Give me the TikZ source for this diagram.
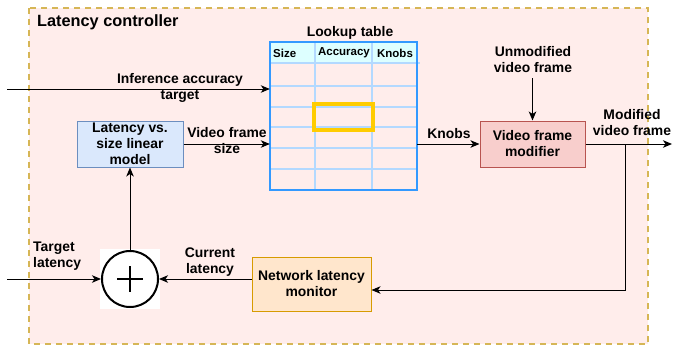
\documentclass[tikz,border=0pt]{standalone}
\usepackage{fontspec}
\setmainfont{Liberation Sans}
\usetikzlibrary{arrows.meta}

\definecolor{ctrlfill}{HTML}{FFEDEB}
\definecolor{ctrldraw}{HTML}{D6B656}
\definecolor{modelfill}{HTML}{DAE8FC}
\definecolor{modeldraw}{HTML}{6C8EBF}
\definecolor{netfill}{HTML}{FFE6CC}
\definecolor{netdraw}{HTML}{D79B00}
\definecolor{modfill}{HTML}{F8CECC}
\definecolor{moddraw}{HTML}{B85450}
\definecolor{tabdraw}{HTML}{3399FF}
\definecolor{tabgrid}{HTML}{B3D9FF}
\definecolor{tabhead}{HTML}{DDFFFF}
\definecolor{pick}{HTML}{FFCC00}

\tikzset{
  lbl/.style={font=\fontsize{13.9}{16}\selectfont\bfseries, align=center, inner sep=0pt},
  hdr/.style={font=\fontsize{11.5}{13}\selectfont\bfseries, inner sep=0pt},
  block/.style={lbl, draw, line width=1pt, minimum width=#1},
  arr/.style={line width=1pt, -{Stealth[length=9pt,width=7.5pt,inset=2.5pt]}},
}

\begin{document}
\begin{tikzpicture}[x=1pt, y=-1pt]
    \useasboundingbox (0,0) rectangle (674,348);

    % Controller frame
    \draw[ctrldraw, fill=ctrlfill, line width=1.5pt, dash pattern=on 6pt off 5pt] (29,8) rectangle (648,344);
    \node[lbl, font=\fontsize{16.3}{18}\selectfont\bfseries, anchor=west] (title) at (37,22) {Latency controller};

    % Lookup table
    \node[minimum width=147, minimum height=148, inner sep=0pt] (tab) at (343.5,116) {};
    \fill[tabhead] (270,42) rectangle (417,63);
    \foreach \y in {86,107,127,148,169}
        \draw[tabgrid, line width=1.2pt] (270,\y) -- (417,\y);
    \draw[tabgrid, line width=1.5pt] (270,63) -- (420,63);
    \draw[tabgrid, line width=1.2pt] (315,42) -- (315,190);
    \draw[tabgrid, line width=1.2pt] (372,42) -- (372,190);
    \draw[tabdraw, line width=2pt] (tab.north west) rectangle (tab.south east);
    \draw[pick, line width=4pt] (314,104) rectangle (373,130);
    \node[lbl, anchor=south] (tabtitle) at (350,40) {Lookup table};
    \node[hdr, anchor=west] (hsize) at (273,53) {Size};
    \node[hdr] (hacc) at (344,53) {Accuracy};
    \node[hdr] (hknob) at (395,53) {Knobs};

    % Blocks
    \node[block=106, fill=modelfill, draw=modeldraw, minimum height=46] (model) at (130,144) {Latency vs.\\size linear\\model};
    \node[block=105, fill=modfill, draw=moddraw, minimum height=46] (mod) at (532.5,144) {Video frame\\modifier};
    \node[block=119, fill=netfill, draw=netdraw, minimum height=54] (mon) at (311.5,284) {Network latency\\monitor};

    % Summing point
    \node[fill=white, minimum size=60, inner sep=0pt] (sumbg) at (130,279) {};
    \node[circle, draw, line width=2pt, minimum size=56, inner sep=0pt] (sum) at (sumbg) {};
    \draw[line width=2pt] (sum.center) ++(-13,0) -- ++(26,0);
    \draw[line width=2pt] (sum.center) ++(0,-13) -- ++(0,26);

    % Free ends
    \coordinate (accin) at (7,89);
    \coordinate (tgtin) at (7,279);
    \coordinate (vidin) at (532.5,78);
    \coordinate (vidout) at (672,144);
    \coordinate (tap) at (625,144);

    % Connectors
    \draw[arr] (accin) -- (accin -| tab.west);
    \draw[arr] (model.east) -- (model.east -| tab.west);
    \draw[arr] (mod.west -| tab.east) -- (mod.west);
    \draw[arr] (vidin) -- (mod.north);
    \draw[arr] (mod.east) -- (vidout);
    \draw[arr] (tap) |- ([yshift=-6pt]mon.east);
    \draw[arr] (sum.east -| mon.west) -- (sum.east);
    \draw[arr] (tgtin) -- (sum.west);
    \draw[arr] (sum.north) -- (model.south);

    % Edge labels
    \node[lbl] (acclbl) at (180,88) {Inference accuracy\\target};
    \node[lbl] (sizelbl) at (227,141) {Video frame\\size};
    \node[lbl, anchor=south] (knoblbl) at (449,139) {Knobs};
    \node[lbl] (unmodlbl) at (533,60) {Unmodified\\video frame};
    \node[lbl] (modlbl) at (632,123) {Modified\\video frame};
    \node[lbl, align=left, anchor=west] (tgtlbl) at (33,256) {Target\\latency};
    \node[lbl] (curlbl) at (210,262) {Current\\latency};
\end{tikzpicture}
\end{document}
